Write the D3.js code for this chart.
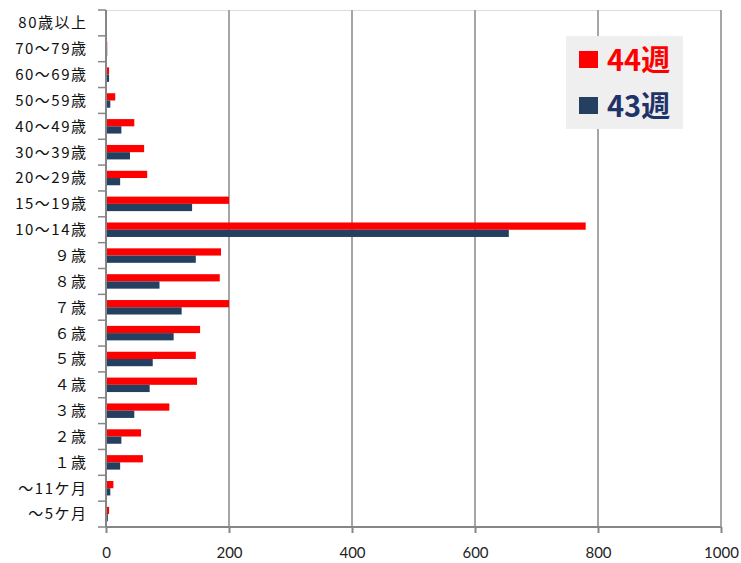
<!DOCTYPE html>
<html>
<head>
<meta charset="utf-8">
<script src="https://cdn.jsdelivr.net/npm/d3@7/dist/d3.min.js"></script>
<style>
  body { margin: 0; background: #fff; }
  svg { display: block; }
</style>
</head>
<body>
<svg class="chart" width="741" height="563"></svg>
<script>
var categories = ['80歳以上', '70～79歳', '60～69歳', '50～59歳', '40～49歳', '30～39歳', '20～29歳',
  '15～19歳', '10～14歳', '９歳', '８歳', '７歳', '６歳', '５歳', '４歳', '３歳', '２歳', '１歳',
  '～11ケ月', '～5ケ月'];
var seriesNames = ['44週', '43週'];
var week44 = [0, 2, 5, 15, 46, 62, 67, 200, 780, 187, 185, 200, 153, 146, 148, 103, 57, 60, 12, 5];
var week43 = [0, 2, 5, 7, 25, 39, 23, 140, 655, 146, 87, 123, 110, 76, 71, 46, 25, 23, 7, 3];
var xTicks = [0, 200, 400, 600, 800, 1000];

(function() {
  'use strict';
  var colors = { '44週': '#ff0000', '43週': '#243f60' };
  var textColors = { '44週': '#ff0000', '43週': '#1f3368' };

  var left = 106, right = 721, top = 10, bottom = 527;

  var chart = d3.select('.chart');

  var x = d3.scaleLinear()
    .domain([0, 1000])
    .range([left, right]);

  var y0 = d3.scaleBand()
    .domain(categories)
    .range([top, bottom])
    .paddingInner(0.44)
    .paddingOuter(0.22);

  var y1 = d3.scaleBand()
    .domain(seriesNames)
    .range([0, y0.bandwidth()]);

  var data = categories.map(function(c, i) {
    return { name: c, values: [{ key: '44週', value: week44[i] }, { key: '43週', value: week43[i] }] };
  });

  // light top border
  chart.append('line')
    .attr('x1', left).attr('x2', right)
    .attr('y1', top + 0.5).attr('y2', top + 0.5)
    .attr('stroke', '#dcdcdc').attr('stroke-width', 1);

  // vertical grid lines
  chart.append('g').selectAll('line')
    .data(xTicks.slice(1))
    .enter().append('line')
      .attr('x1', function(d) { return x(d); })
      .attr('x2', function(d) { return x(d); })
      .attr('y1', top)
      .attr('y2', bottom)
      .attr('stroke', '#a6a6a6')
      .attr('stroke-width', 2);

  // bars
  var group = chart.append('g').selectAll('g')
      .data(data)
    .enter().append('g')
      .attr('transform', function(d) { return 'translate(0,' + y0(d.name) + ')'; });

  group.selectAll('rect')
      .data(function(d) { return d.values; })
    .enter().append('rect')
      .attr('x', x(0))
      .attr('y', function(d) { return y1(d.key); })
      .attr('width', function(d) { return x(d.value) - x(0); })
      .attr('height', y1.bandwidth())
      .attr('fill', function(d) { return colors[d.key]; });

  // x axis
  var xAxis = chart.append('g')
    .attr('transform', 'translate(0,' + bottom + ')')
    .call(d3.axisBottom(x).tickValues(xTicks).tickFormat(d3.format('d')).tickSize(6).tickPadding(14));
  xAxis.select('.domain').attr('stroke', '#868686').attr('stroke-width', 2)
    .attr('d', 'M' + left + ',0H' + right);
  xAxis.selectAll('.tick line').attr('stroke', '#868686').attr('stroke-width', 2);
  xAxis.selectAll('.tick text')
    .attr('fill', '#222')
    .style('font-family', 'Lato, "Liberation Sans", sans-serif')
    .style('font-size', '15px');

  // y axis line and ticks at category boundaries
  var boundaries = categories.map(function(c) { return y0(c) - y0.step() * y0.paddingInner() / 2; });
  boundaries.push(bottom);
  chart.append('line')
    .attr('x1', left).attr('x2', left)
    .attr('y1', top).attr('y2', bottom)
    .attr('stroke', '#868686').attr('stroke-width', 2);
  chart.append('g').selectAll('line')
    .data(boundaries)
    .enter().append('line')
      .attr('x1', left - 8).attr('x2', left)
      .attr('y1', function(d) { return d; })
      .attr('y2', function(d) { return d; })
      .attr('stroke', '#868686').attr('stroke-width', 1.5);

  // category labels
  chart.append('g').selectAll('text')
    .data(categories)
    .enter().append('text')
      .attr('x', 87.5)
      .attr('y', function(d) { return y0(d) + y0.bandwidth() / 2; })
      .attr('dy', '0.36em')
      .attr('text-anchor', 'end')
      .attr('fill', '#111')
      .style('font-family', '"Noto Sans CJK JP", sans-serif')
      .style('font-size', '15px')
      .style('letter-spacing', '1.5px')
      .text(function(d) { return d; });

  // legend
  var legend = chart.append('g');
  legend.append('rect')
    .attr('x', 566).attr('y', 36)
    .attr('width', 117).attr('height', 93)
    .attr('fill', '#efefef');

  var item = legend.selectAll('g')
      .data(seriesNames)
    .enter().append('g')
      .attr('transform', function(d, i) { return 'translate(579,' + (51 + i * 46) + ')'; });

  item.append('rect')
    .attr('width', 19).attr('height', 17)
    .attr('fill', function(d) { return colors[d]; });

  item.append('text')
    .attr('x', 28)
    .attr('y', 20)
    .attr('fill', function(d) { return textColors[d]; })
    .style('font-family', '"Noto Sans CJK JP", sans-serif')
    .style('font-weight', 'bold')
    .style('font-size', '29px')
    .text(function(d) { return d; });
}());
</script>
</body>
</html>
